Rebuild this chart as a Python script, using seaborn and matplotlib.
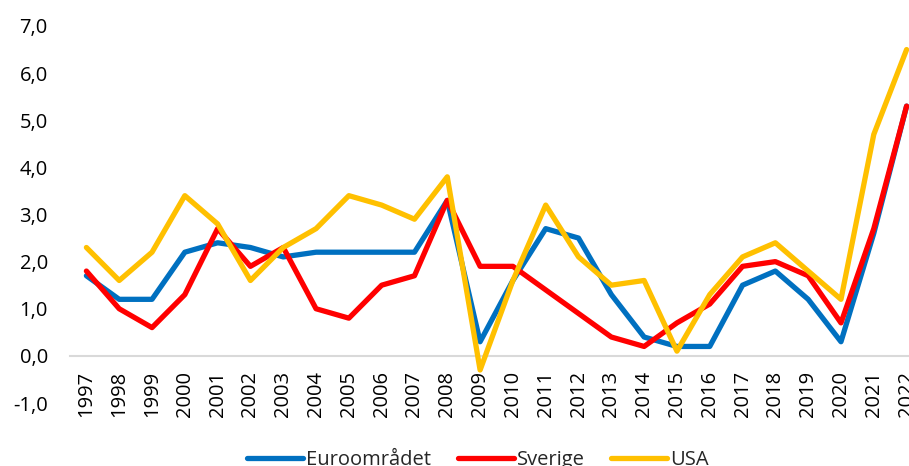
import matplotlib
matplotlib.use("Agg")
import matplotlib.pyplot as plt
import seaborn as sns
import pandas as pd

years = [str(y) for y in range(1997, 2023)]
euro = [1.7, 1.2, 1.2, 2.2, 2.4, 2.3, 2.1, 2.2, 2.2, 2.2, 2.2, 3.3, 0.3, 1.6, 2.7, 2.5,
        1.3, 0.4, 0.2, 0.2, 1.5, 1.8, 1.2, 0.3, 2.6, 5.3]
sverige = [1.8, 1.0, 0.6, 1.3, 2.7, 1.9, 2.3, 1.0, 0.8, 1.5, 1.7, 3.3, 1.9, 1.9, 1.4, 0.9,
           0.4, 0.2, 0.7, 1.1, 1.9, 2.0, 1.7, 0.7, 2.7, 5.3]
usa = [2.3, 1.6, 2.2, 3.4, 2.8, 1.6, 2.3, 2.7, 3.4, 3.2, 2.9, 3.8, -0.3, 1.6, 3.2, 2.1,
       1.5, 1.6, 0.1, 1.3, 2.1, 2.4, 1.8, 1.2, 4.7, 6.5]
series_names = ["Euroområdet", "Sverige", "USA"]
colors = ["#0070C0", "#FF0000", "#FFC000"]
yticks = [-1, 0, 1, 2, 3, 4, 5, 6, 7]
ytick_labels = ["-1,0", "0,0", "1,0", "2,0", "3,0", "4,0", "5,0", "6,0", "7,0"]

rows = []
for name, vals in zip(series_names, [euro, sverige, usa]):
    for i, (yr, v) in enumerate(zip(years, vals)):
        rows.append({"idx": i, "year": yr, "value": v, "series": name})
df = pd.DataFrame(rows)

sns.set_style("white")
plt.rcParams["font.family"] = ["Open Sans", "DejaVu Sans"]

fig = plt.figure(figsize=(9.09, 4.66), dpi=100)
ax = fig.add_axes([70 / 909, (466 - 403) / 466, (923 - 70) / 909, (403 - 26) / 466])

sns.lineplot(data=df, x="idx", y="value", hue="series", hue_order=series_names,
             palette=colors, linewidth=3.8, ax=ax, sort=False)

for s in ["top", "right", "left"]:
    ax.spines[s].set_visible(False)
ax.spines["bottom"].set_position(("data", 0))
ax.spines["bottom"].set_color("#D9D9D9")
ax.spines["bottom"].set_linewidth(1.5)
ax.spines["bottom"].set_zorder(0)

ax.set_xlim(-0.5, len(years) - 0.5)
ax.set_ylim(-1, 7)
ax.set_xticks(range(len(years)))
ax.set_xticklabels(years, rotation=90, fontsize=14.5)
ax.set_yticks(yticks)
ax.set_yticklabels(ytick_labels, fontsize=14.5)
ax.tick_params(axis="x", length=0, pad=11, colors="black", labelrotation=90)
ax.tick_params(axis="y", length=0, pad=16, colors="black")
ax.set_xlabel("")
ax.set_ylabel("")

handles, labels = ax.get_legend_handles_labels()
ax.get_legend().remove()
leg = fig.legend(handles, labels, loc="center", bbox_to_anchor=(478 / 909, 6 / 466),
                 ncol=3, frameon=False, fontsize=14.5, handlelength=2.8,
                 handletextpad=0.15, columnspacing=1.3)
for h in leg.get_lines():
    h.set_linewidth(3.8)
    h.set_solid_capstyle("round")

fig.savefig("out.png", dpi=100)
